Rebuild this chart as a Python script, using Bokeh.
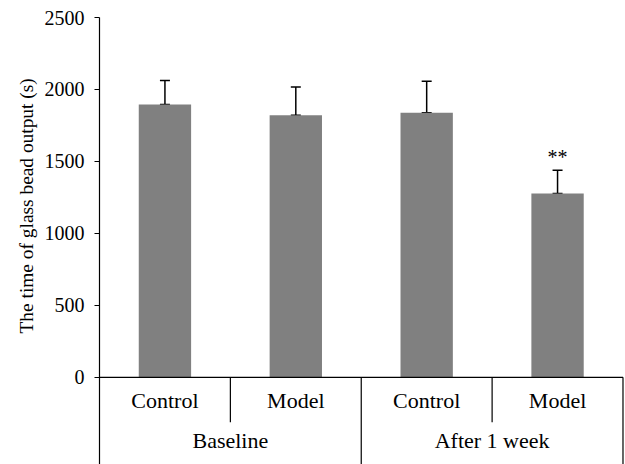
from bokeh.plotting import figure
from bokeh.models import ColumnDataSource, Range1d, FixedTicker, Whisker, TeeHead, Title
from bokeh.core.properties import value
from bokeh.embed import file_html
from bokeh.resources import INLINE

# ---- data ----
groups = ["Baseline", "After 1 week"]
conditions = ["Control", "Model", "Control", "Model"]
means = [1895, 1821, 1839, 1277]
errors = [167, 196, 218, 161]
marks = ["", "", "", "**"]
y_ticks = [0, 500, 1000, 1500, 2000, 2500]
y_title = "The time of glass bead output (s)"

FONT = "Liberation Serif"
n = len(conditions)
xs = [i + 0.5 for i in range(n)]
upper = [m + e for m, e in zip(means, errors)]

p = figure(width=625, height=464, output_backend="svg", toolbar_location=None,
           x_range=Range1d(0, n * 1.0048), y_range=Range1d(-606, 2500),
           min_border_left=99, min_border_right=0, min_border_top=17, min_border_bottom=0)
p.xaxis.visible = False
p.grid.visible = False
p.outline_line_color = None
p.background_fill_color = "white"

ax = p.yaxis[0]
ax.ticker = FixedTicker(ticks=y_ticks)
ax.major_label_overrides = {t: str(t) for t in y_ticks}
ax.major_label_text_font = FONT
ax.major_label_text_font_size = "20px"
ax.major_label_text_color = "black"
ax.major_label_standoff = 10
ax.major_tick_in = 0
ax.major_tick_out = 5
ax.minor_tick_line_color = None
ax.axis_line_color = "black"
ax.major_tick_line_color = "black"
ax.axis_line_width = 1.2
ax.major_tick_line_width = 1.2

# y title: starts beside the 0 tick, reading upwards
p.add_layout(Title(text=y_title, align="left", offset=131, standoff=9,
                   text_font=FONT, text_font_size="19.4px", text_font_style="normal",
                   text_color="black"), "left")

src = ColumnDataSource(dict(x=xs, top=means, upper=upper, mark=marks, cond=conditions))
p.vbar(x="x", top="top", bottom=0, width=0.4, source=src,
       fill_color="#808080", line_color=None)

w = Whisker(base="x", lower="top", upper="upper", source=src, dimension="height",
            line_color="black", line_width=1.5,
            upper_head=TeeHead(size=10, line_color="black", line_width=1.5),
            lower_head=TeeHead(size=10, line_color="black", line_width=1.5))
p.add_layout(w)

p.text(x="x", y="upper", text="mark", source=src, text_font=value(FONT),
       text_font_size="20px", text_align="center", text_baseline="bottom",
       y_offset=-2, text_color="black")

# category "table" under the zero line
p.segment(x0=[0], y0=[0], x1=[n], y1=[0], line_color="black", line_width=1.2)
short_x = [i for i in range(1, n) if i % 2 == 1]
long_x = [i for i in range(2, n + 1, 2)]
p.segment(x0=short_x, y0=[0] * len(short_x), x1=short_x, y1=[-313] * len(short_x),
          line_color="black", line_width=1.2)
p.segment(x0=long_x, y0=[0] * len(long_x), x1=long_x, y1=[-620] * len(long_x),
          line_color="black", line_width=1.2)

p.text(x=xs, y=[-160] * n, text=conditions, text_font=value(FONT),
       text_font_size="22px", text_align="center", text_baseline="middle",
       text_color="black")
gx = [2 * g + 1 for g in range(len(groups))]
p.text(x=gx, y=[-438] * len(groups), text=groups, text_font=value(FONT),
       text_font_size="22px", text_align="center", text_baseline="middle",
       text_color="black")

open("out.html", "w").write(file_html(p, INLINE))
